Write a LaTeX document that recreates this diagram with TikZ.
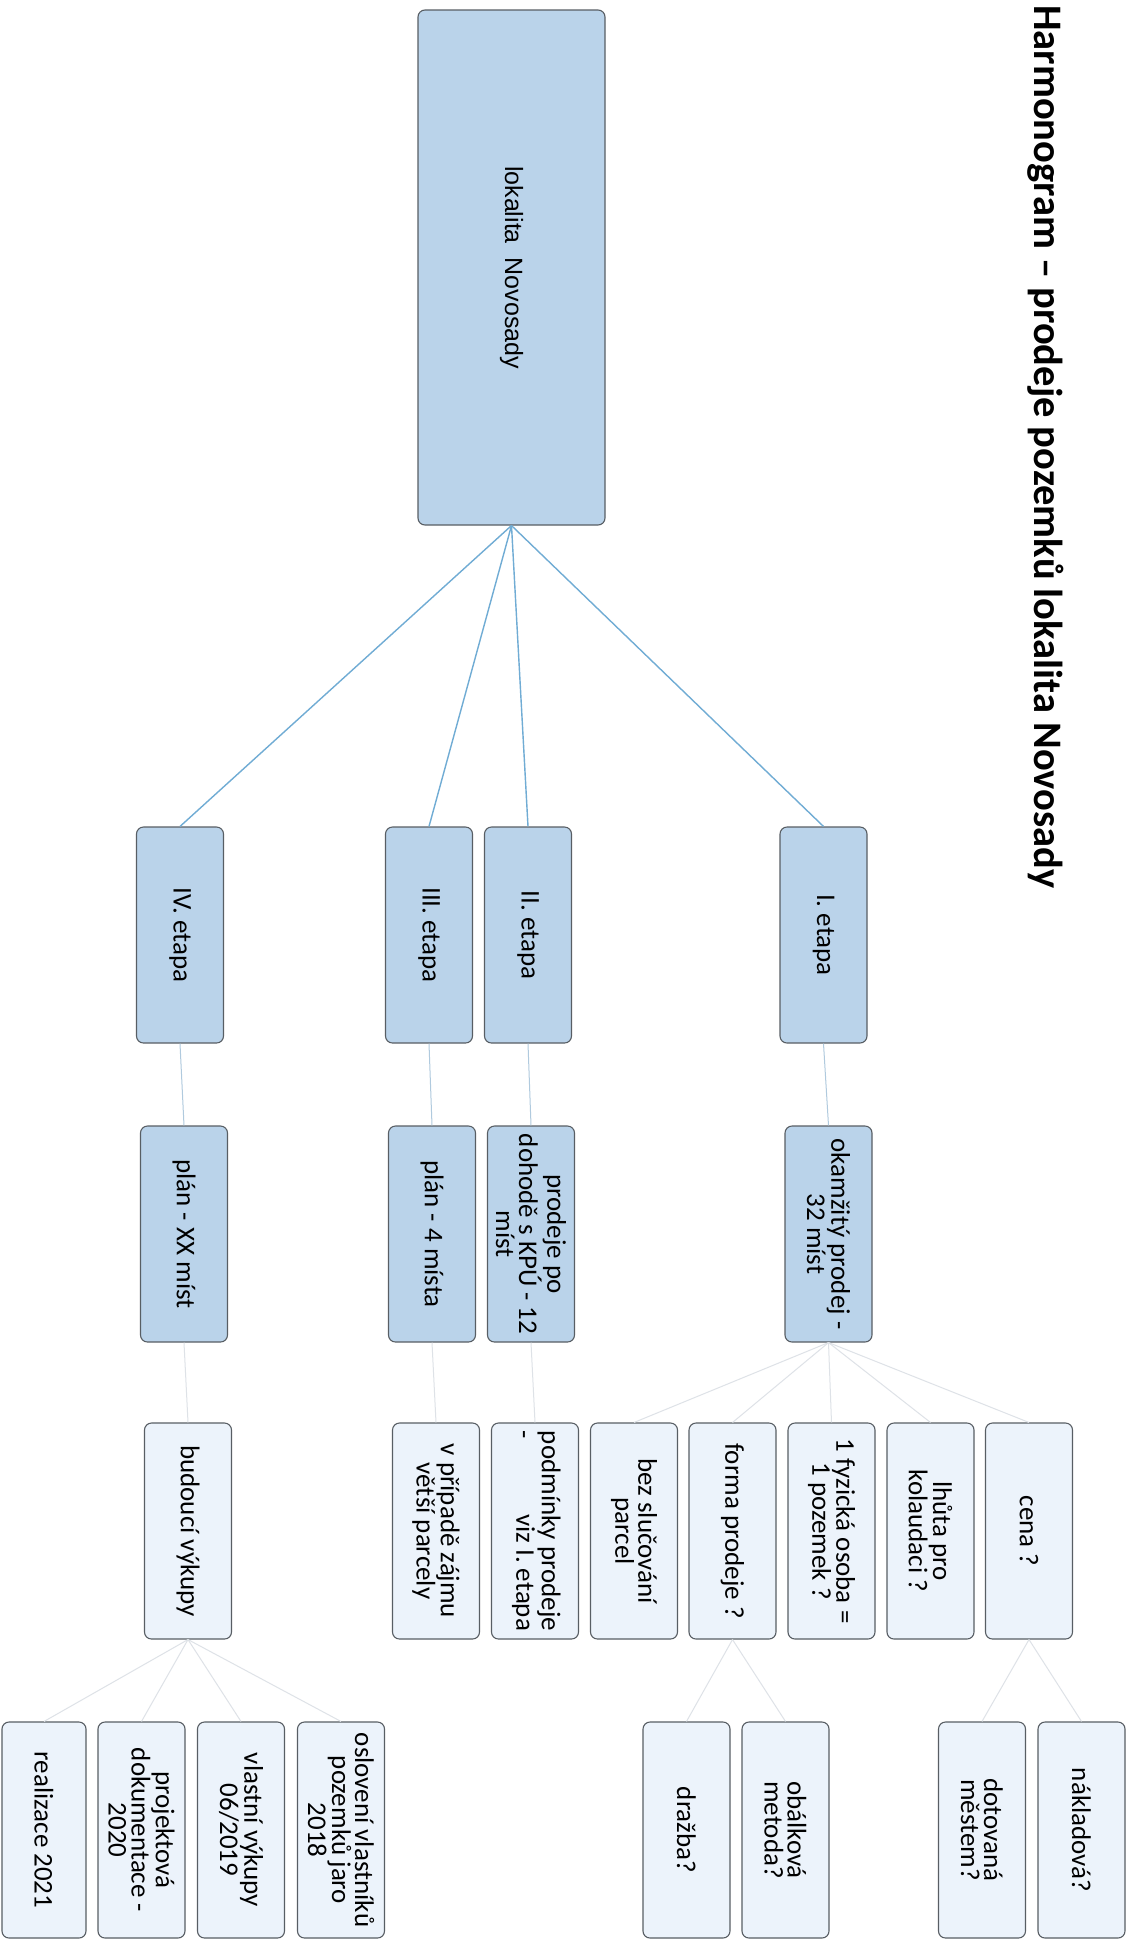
\documentclass[tikz,border=0pt]{standalone}
\usepackage{fontspec}
\setmainfont{Carlito}
\newfontfamily\rootfont{Liberation Sans}
\definecolor{cmid}{RGB}{186,211,234}
\definecolor{cleaf}{RGB}{236,243,251}
\definecolor{cborder}{RGB}{88,94,100}
\definecolor{crootline}{RGB}{112,172,212}
\definecolor{cmidline}{RGB}{176,202,222}
\definecolor{cleafline}{RGB}{222,226,231}
\begin{document}
\begin{tikzpicture}[x=1pt,y=-1pt,
  box/.style={draw=cborder, line width=1.1pt, rounded corners=7pt, rotate=-90,
    minimum width=216pt, minimum height=87pt, inner sep=0pt, align=center,
    font=\fontsize{27}{23}\selectfont, text=black},
  midbox/.style={box, fill=cmid},
  leafbox/.style={box, fill=cleaf},
  rootlink/.style={draw=crootline, line width=1.4pt},
  midlink/.style={draw=cmidline, line width=1pt},
  leaflink/.style={draw=cleafline, line width=1pt}
]
\useasboundingbox[fill=white] (0,0) rectangle (1136,1944);

% title
\node[rotate=-90, anchor=base west, inner sep=0pt,
  font=\fontsize{40.5}{48}\selectfont\bfseries] (title) at (1034,5)
  {Harmonogram – prodeje pozemků lokalita Novosady};

% root
\node[midbox, minimum width=515pt, minimum height=187pt,
  font=\rootfont\fontsize{25}{30}\selectfont] (root) at (511.5,267.5) {lokalita\ \ Novosady};

% stages
\node[midbox] (e1) at (823.5,935) {I. etapa};
\node[midbox] (e2) at (528,935) {II. etapa};
\node[midbox] (e3) at (429,935) {III. etapa};
\node[midbox] (e4) at (180,935) {IV. etapa};

% level 2
\node[midbox] (k1) at (828.5,1234) {okamžitý prodej -\\32 míst};
\node[midbox] (k2) at (531,1234) {prodeje po\\dohodě s KPÚ - 12\\míst};
\node[midbox] (k3) at (432,1234) {plán - 4 místa};
\node[midbox] (k4) at (184,1234) {plán - XX míst};

% level 3
\node[leafbox] (cena) at (1029,1531) {cena ?};
\node[leafbox] (lhuta) at (930.5,1531) {lhůta pro\\kolaudaci ?};
\node[leafbox] (fyz) at (831.5,1531) {1 fyzická osoba =\\1 pozemek ?};
\node[leafbox] (forma) at (732.5,1531) {forma prodeje ?};
\node[leafbox] (bez) at (634,1531) {bez slučování\\parcel};
\node[leafbox] (podm) at (535,1531) {\begin{tabular}{@{}c@{}}podmínky prodeje\\-\hfill viz I. etapa\end{tabular}};
\node[leafbox] (vpr) at (436,1531) {v případě zájmu\\větší parcely};
\node[leafbox] (bud) at (188,1531) {budoucí výkupy};

% level 4
\node[leafbox] (nakl) at (1081.5,1830) {nákladová?};
\node[leafbox] (dot) at (982,1830) {dotovaná\\městem?};
\node[leafbox] (obal) at (785.5,1830) {obálková\\metoda?};
\node[leafbox] (drazba) at (686.5,1830) {dražba?};
\node[leafbox] (oslov) at (341,1830) {oslovení vlastníků\\pozemků jaro\\2018};
\node[leafbox] (vlast) at (241,1830) {vlastní výkupy\\06/2019};
\node[leafbox] (proj) at (141.5,1830) {projektová\\dokumentace -\\2020};
\node[leafbox, minimum height=84pt] (real) at (44,1830) {realizace 2021};

% connectors
\foreach \t in {e1,e2,e3,e4} \draw[rootlink] (root.east) -- (\t.west);
\draw[midlink] (e1.east) -- (k1.west);
\draw[midlink] (e2.east) -- (k2.west);
\draw[midlink] (e3.east) -- (k3.west);
\draw[midlink] (e4.east) -- (k4.west);
\foreach \t in {cena,lhuta,fyz,forma,bez} \draw[leaflink] (k1.east) -- (\t.west);
\draw[leaflink] (k2.east) -- (podm.west);
\draw[leaflink] (k3.east) -- (vpr.west);
\draw[leaflink] (k4.east) -- (bud.west);
\foreach \t in {nakl,dot} \draw[leaflink] (cena.east) -- (\t.west);
\foreach \t in {obal,drazba} \draw[leaflink] (forma.east) -- (\t.west);
\foreach \t in {oslov,vlast,proj,real} \draw[leaflink] (bud.east) -- (\t.west);
\end{tikzpicture}
\end{document}
